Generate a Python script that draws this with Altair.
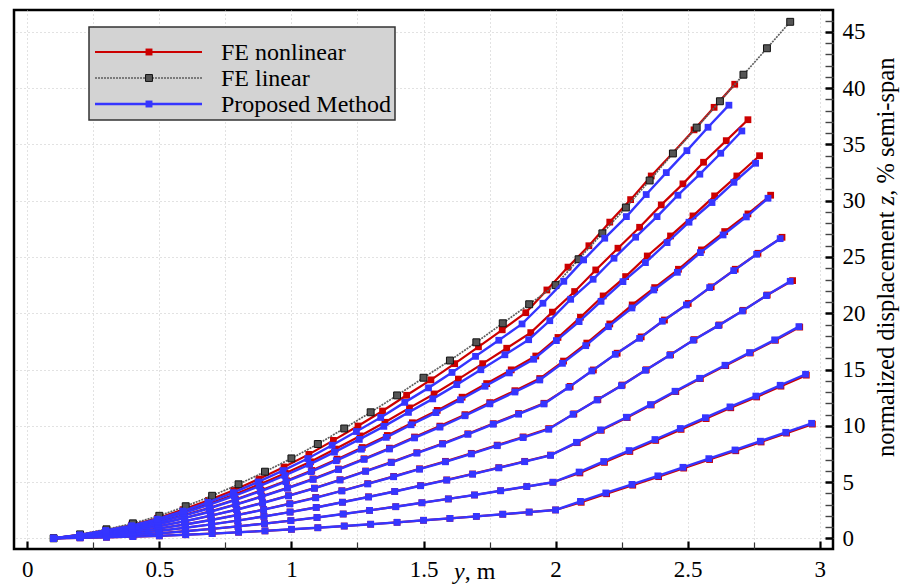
import altair as alt
import pandas as pd

FONT = "Liberation Serif"
RED = "#cc0000"
BLUE = "#3535ff"
GRAY = "#555555"

SERIES = ["FE nonlinear", "FE linear", "Proposed Method"]
X_GRID = [0, 0.25, 0.5, 0.75, 1, 1.25, 1.5, 1.75, 2, 2.25, 2.5, 2.75, 3]
X_MAJOR = [0, 0.5, 1, 1.5, 2, 2.5, 3]
X_MINOR = [0.25, 0.75, 1.25, 1.75, 2.25, 2.75]
Y_MAJOR = [0, 5, 10, 15, 20, 25, 30, 35, 40, 45]
Y_MINOR = [1, 2, 3, 4, 6, 7, 8, 9, 11, 12, 13, 14, 16, 17, 18, 19, 21, 22, 23, 24,
           26, 27, 28, 29, 31, 32, 33, 34, 36, 37, 38, 39, 41, 42, 43, 44, 46]

# ---------------- FE linear ----------------
X_LIN = [0.1, 0.2, 0.3, 0.4, 0.5, 0.6, 0.7, 0.8, 0.9, 1.0, 1.1, 1.2, 1.3, 1.4, 1.5, 1.6, 1.7, 1.8, 1.9, 2.0,
         2.087, 2.177, 2.266, 2.356, 2.444, 2.534, 2.622, 2.711, 2.8, 2.888]
Y_LIN = [0, 0.35, 0.8, 1.33, 2.0, 2.85, 3.78, 4.8, 5.92, 7.1, 8.38, 9.76, 11.2, 12.7, 14.27, 15.8, 17.42, 19.11, 20.8, 22.5,
         24.8, 27.1, 29.4, 31.8, 34.2, 36.5, 38.84, 41.2, 43.55, 45.9]

# ---------------- Proposed Method (blue) ----------------
X_PM1 = [0.1, 0.2, 0.3, 0.4, 0.5, 0.6, 0.7, 0.8, 0.9, 1.0, 1.1, 1.2, 1.3, 1.4, 1.5, 1.6, 1.7, 1.8, 1.9, 2.0,
         2.094, 2.19, 2.289, 2.387, 2.482, 2.58, 2.679, 2.775, 2.871, 2.969]
Y_PM1 = [0, 0.04, 0.09, 0.15, 0.22, 0.32, 0.42, 0.54, 0.66, 0.8, 0.94, 1.09, 1.25, 1.42, 1.6, 1.77, 1.95, 2.14, 2.33, 2.52,
         3.28, 4.03, 4.79, 5.55, 6.31, 7.08, 7.85, 8.63, 9.42, 10.22]
X_PM2 = [0.1, 0.2, 0.3, 0.4, 0.499, 0.599, 0.699, 0.798, 0.898, 0.998, 1.097, 1.196, 1.296, 1.395, 1.494, 1.594, 1.693, 1.792, 1.891, 1.99,
         2.089, 2.182, 2.278, 2.376, 2.472, 2.567, 2.66, 2.758, 2.85, 2.946]
Y_PM2 = [0, 0.08, 0.18, 0.29, 0.44, 0.63, 0.84, 1.06, 1.31, 1.57, 1.85, 2.16, 2.48, 2.81, 3.16, 3.5, 3.85, 4.23, 4.6, 4.98,
         5.89, 6.83, 7.8, 8.78, 9.76, 10.72, 11.68, 12.64, 13.6, 14.58]
X_PM3 = [0.1, 0.2, 0.3, 0.399, 0.499, 0.598, 0.698, 0.797, 0.896, 0.995, 1.094, 1.193, 1.292, 1.391, 1.489, 1.588, 1.686, 1.785, 1.883, 1.981,
         2.079, 2.17, 2.268, 2.359, 2.452, 2.545, 2.641, 2.734, 2.829, 2.921]
Y_PM3 = [0, 0.12, 0.27, 0.43, 0.66, 0.94, 1.24, 1.57, 1.94, 2.33, 2.74, 3.2, 3.67, 4.16, 4.67, 5.17, 5.7, 6.26, 6.81, 7.37,
         8.53, 9.63, 10.76, 11.88, 13.07, 14.22, 15.38, 16.5, 17.63, 18.81]
X_PM4 = [0.1, 0.2, 0.299, 0.399, 0.498, 0.598, 0.697, 0.796, 0.895, 0.994, 1.092, 1.191, 1.289, 1.387, 1.485, 1.583, 1.681, 1.779, 1.877, 1.974,
         2.066, 2.157, 2.249, 2.34, 2.432, 2.521, 2.616, 2.707, 2.798, 2.888]
Y_PM4 = [0, 0.16, 0.35, 0.57, 0.86, 1.23, 1.63, 2.06, 2.55, 3.06, 3.6, 4.21, 4.83, 5.47, 6.14, 6.8, 7.5, 8.23, 8.95, 9.69,
         11.02, 12.29, 13.56, 14.93, 16.27, 17.6, 18.9, 20.2, 21.57, 22.84]
X_PM5 = [0.1, 0.2, 0.299, 0.398, 0.497, 0.596, 0.695, 0.793, 0.891, 0.989, 1.087, 1.184, 1.281, 1.378, 1.475, 1.572, 1.668, 1.764, 1.86, 1.956,
         2.05, 2.137, 2.226, 2.318, 2.404, 2.495, 2.583, 2.674, 2.761, 2.85]
Y_PM5 = [0, 0.19, 0.43, 0.7, 1.06, 1.52, 2.01, 2.54, 3.14, 3.77, 4.44, 5.18, 5.95, 6.73, 7.57, 8.38, 9.24, 10.14, 11.03, 11.94,
         13.42, 14.87, 16.35, 17.77, 19.29, 20.74, 22.28, 23.79, 25.24, 26.63]
X_PM6 = [0.1, 0.199, 0.299, 0.398, 0.496, 0.595, 0.693, 0.79, 0.888, 0.985, 1.082, 1.178, 1.275, 1.371, 1.466, 1.562, 1.657, 1.751, 1.846, 1.94,
         2.026, 2.114, 2.2, 2.289, 2.372, 2.461, 2.548, 2.634, 2.722, 2.804]
Y_PM6 = [0, 0.23, 0.51, 0.83, 1.25, 1.79, 2.36, 3.0, 3.7, 4.45, 5.23, 6.11, 7.01, 7.94, 8.92, 9.88, 10.89, 11.95, 13.0, 14.07,
         15.55, 17.12, 18.81, 20.47, 22.07, 23.64, 25.39, 26.96, 28.56, 30.22]
X_PM7 = [0.1, 0.199, 0.298, 0.397, 0.495, 0.593, 0.69, 0.787, 0.883, 0.979, 1.075, 1.17, 1.265, 1.359, 1.453, 1.547, 1.64, 1.733, 1.825, 1.917,
         2.003, 2.089, 2.172, 2.255, 2.34, 2.422, 2.505, 2.592, 2.675, 2.757]
Y_PM7 = [0, 0.25, 0.57, 0.94, 1.42, 2.02, 2.67, 3.39, 4.18, 5.03, 5.92, 6.9, 7.92, 8.97, 10.09, 11.17, 12.31, 13.51, 14.7, 15.91,
         17.57, 19.26, 21.06, 22.81, 24.5, 26.28, 28.09, 29.84, 31.64, 33.33]
X_PM8 = [0.1, 0.199, 0.298, 0.396, 0.494, 0.591, 0.688, 0.784, 0.879, 0.975, 1.069, 1.163, 1.257, 1.35, 1.443, 1.535, 1.626, 1.717, 1.808, 1.898,
         1.978, 2.057, 2.142, 2.221, 2.303, 2.384, 2.463, 2.546, 2.625, 2.705]
Y_PM8 = [0, 0.28, 0.64, 1.04, 1.57, 2.24, 2.97, 3.76, 4.64, 5.58, 6.57, 7.66, 8.79, 9.95, 11.19, 12.39, 13.66, 14.98, 16.31, 17.65,
         19.34, 21.24, 23.02, 24.89, 26.76, 28.59, 30.49, 32.36, 34.22, 36.2]
X_PM9 = [0.1, 0.199, 0.297, 0.395, 0.492, 0.589, 0.684, 0.78, 0.874, 0.968, 1.062, 1.154, 1.246, 1.338, 1.429, 1.519, 1.608, 1.697, 1.785, 1.873,
         1.952, 2.031, 2.106, 2.186, 2.268, 2.343, 2.419, 2.497, 2.577, 2.656]
Y_PM9 = [0, 0.3, 0.69, 1.12, 1.7, 2.42, 3.2, 4.06, 5.01, 6.02, 7.09, 8.27, 9.49, 10.74, 12.08, 13.37, 14.74, 16.17, 17.6, 19.05,
         20.89, 22.84, 24.74, 26.67, 28.59, 30.55, 32.5, 34.45, 36.53, 38.49]

# ---------------- FE nonlinear (red) ----------------
X_NL1 = [0.1, 0.2, 0.3, 0.4, 0.5, 0.6, 0.7, 0.8, 0.9, 1.0, 1.1, 1.2, 1.3, 1.4, 1.5, 1.6, 1.7, 1.8, 1.9, 2.0,
         2.097, 2.193, 2.292, 2.39, 2.485, 2.583, 2.682, 2.778, 2.874, 2.972]
Y_NL1 = [0, 0.04, 0.09, 0.15, 0.22, 0.32, 0.42, 0.54, 0.66, 0.8, 0.94, 1.09, 1.25, 1.42, 1.6, 1.77, 1.95, 2.14, 2.33, 2.52,
         3.2, 3.96, 4.72, 5.48, 6.24, 7.0, 7.78, 8.56, 9.35, 10.15]
X_NL2 = [0.1, 0.2, 0.3, 0.4, 0.499, 0.599, 0.699, 0.798, 0.898, 0.998, 1.097, 1.196, 1.296, 1.395, 1.494, 1.594, 1.693, 1.792, 1.891, 1.99,
         2.092, 2.185, 2.281, 2.379, 2.475, 2.57, 2.663, 2.761, 2.853, 2.949]
Y_NL2 = [0, 0.08, 0.18, 0.29, 0.44, 0.63, 0.84, 1.06, 1.31, 1.57, 1.85, 2.16, 2.48, 2.81, 3.16, 3.5, 3.85, 4.23, 4.6, 4.98,
         5.81, 6.75, 7.72, 8.7, 9.68, 10.64, 11.6, 12.56, 13.52, 14.5]
X_NL3 = [0.1, 0.2, 0.3, 0.399, 0.499, 0.598, 0.698, 0.797, 0.896, 0.995, 1.094, 1.193, 1.292, 1.391, 1.489, 1.588, 1.686, 1.785, 1.883, 1.981,
         2.082, 2.173, 2.271, 2.362, 2.455, 2.548, 2.644, 2.737, 2.832, 2.924]
Y_NL3 = [0, 0.12, 0.27, 0.44, 0.66, 0.94, 1.25, 1.58, 1.95, 2.34, 2.75, 3.21, 3.69, 4.17, 4.69, 5.19, 5.72, 6.28, 6.84, 7.4,
         8.5, 9.6, 10.73, 11.85, 13.04, 14.19, 15.35, 16.47, 17.6, 18.77]
X_NL4 = [0.1, 0.2, 0.299, 0.399, 0.498, 0.598, 0.697, 0.796, 0.895, 0.994, 1.092, 1.191, 1.289, 1.387, 1.485, 1.583, 1.681, 1.779, 1.877, 1.974,
         2.069, 2.16, 2.252, 2.343, 2.435, 2.524, 2.619, 2.71, 2.801, 2.897]
Y_NL4 = [0, 0.16, 0.35, 0.58, 0.87, 1.24, 1.64, 2.08, 2.56, 3.08, 3.63, 4.23, 4.86, 5.5, 6.18, 6.84, 7.55, 8.28, 9.01, 9.75,
         11.06, 12.33, 13.62, 14.98, 16.32, 17.66, 18.96, 20.26, 21.62, 22.9]
X_NL5 = [0.1, 0.2, 0.299, 0.398, 0.497, 0.596, 0.695, 0.793, 0.891, 0.989, 1.087, 1.184, 1.281, 1.378, 1.475, 1.572, 1.668, 1.764, 1.86, 1.956,
         2.055, 2.143, 2.233, 2.324, 2.412, 2.502, 2.589, 2.68, 2.766, 2.857]
Y_NL5 = [0, 0.19, 0.43, 0.71, 1.07, 1.52, 2.02, 2.56, 3.16, 3.79, 4.46, 5.21, 5.98, 6.77, 7.61, 8.42, 9.29, 10.19, 11.09, 12.0,
         13.5, 14.96, 16.45, 17.9, 19.4, 20.87, 22.35, 23.91, 25.33, 26.75]
X_NL6 = [0.1, 0.199, 0.299, 0.398, 0.496, 0.595, 0.693, 0.79, 0.888, 0.985, 1.082, 1.178, 1.275, 1.371, 1.466, 1.562, 1.657, 1.751, 1.846, 1.94,
         2.03, 2.118, 2.205, 2.29, 2.375, 2.465, 2.552, 2.64, 2.728, 2.814]
Y_NL6 = [0, 0.23, 0.51, 0.84, 1.26, 1.8, 2.39, 3.02, 3.73, 4.49, 5.28, 6.16, 7.07, 8.01, 9.0, 9.97, 10.99, 12.06, 13.12, 14.2,
         15.75, 17.35, 19.05, 20.74, 22.28, 23.91, 25.63, 27.26, 28.83, 30.49]
X_NL7 = [0.1, 0.199, 0.298, 0.397, 0.495, 0.593, 0.691, 0.788, 0.885, 0.981, 1.077, 1.173, 1.268, 1.363, 1.458, 1.552, 1.646, 1.739, 1.832, 1.925,
         2.009, 2.094, 2.18, 2.265, 2.347, 2.435, 2.52, 2.602, 2.686, 2.772]
Y_NL7 = [0, 0.26, 0.58, 0.96, 1.44, 2.06, 2.72, 3.45, 4.26, 5.12, 6.03, 7.03, 8.07, 9.14, 10.27, 11.37, 12.54, 13.75, 14.97, 16.2,
         17.85, 19.65, 21.54, 23.26, 25.09, 26.87, 28.65, 30.43, 32.2, 34.0]
X_NL8 = [0.1, 0.199, 0.298, 0.396, 0.494, 0.592, 0.688, 0.785, 0.881, 0.977, 1.072, 1.166, 1.26, 1.354, 1.447, 1.54, 1.632, 1.724, 1.815, 1.906,
         1.988, 2.072, 2.152, 2.236, 2.318, 2.4, 2.482, 2.56, 2.646, 2.728]
Y_NL8 = [0, 0.29, 0.66, 1.08, 1.63, 2.32, 3.07, 3.89, 4.81, 5.78, 6.8, 7.93, 9.1, 10.31, 11.59, 12.83, 14.15, 15.52, 16.89, 18.28,
         20.1, 21.93, 23.85, 25.78, 27.64, 29.63, 31.5, 33.42, 35.34, 37.2]
X_NL9 = [0.1, 0.199, 0.297, 0.395, 0.493, 0.59, 0.686, 0.782, 0.877, 0.972, 1.066, 1.159, 1.252, 1.345, 1.436, 1.528, 1.618, 1.708, 1.798, 1.887,
         1.967, 2.047, 2.126, 2.205, 2.284, 2.362, 2.442, 2.524, 2.6, 2.678]
Y_NL9 = [0, 0.32, 0.72, 1.18, 1.78, 2.55, 3.37, 4.27, 5.27, 6.34, 7.46, 8.7, 9.98, 11.31, 12.71, 14.08, 15.52, 17.02, 18.53, 20.05,
         22.07, 24.1, 26.0, 28.1, 30.1, 32.2, 34.2, 36.3, 38.3, 40.35]

NL = [(X_NL1, Y_NL1), (X_NL2, Y_NL2), (X_NL3, Y_NL3), (X_NL4, Y_NL4), (X_NL5, Y_NL5),
      (X_NL6, Y_NL6), (X_NL7, Y_NL7), (X_NL8, Y_NL8), (X_NL9, Y_NL9)]
PM = [(X_PM1, Y_PM1), (X_PM2, Y_PM2), (X_PM3, Y_PM3), (X_PM4, Y_PM4), (X_PM5, Y_PM5),
      (X_PM6, Y_PM6), (X_PM7, Y_PM7), (X_PM8, Y_PM8), (X_PM9, Y_PM9)]
LIN = [(X_LIN, Y_LIN)]


def to_long(curves, prefix):
    rows = []
    for k, (xs, ys) in enumerate(curves, 1):
        for i, (xv, yv) in enumerate(zip(xs, ys)):
            rows.append({"curve": f"{prefix}{k}", "i": i, "x": xv, "y": yv})
    return pd.DataFrame(rows)


df_nl = to_long(NL, "nl")
df_pm = to_long(PM, "pm")
df_lin = to_long(LIN, "lin")

W, H = 819, 539
XS = alt.Scale(domain=[-0.05, 3.05], nice=False, zero=False)
YS = alt.Scale(domain=[-0.95, 46.95], nice=False, zero=False)

GRID = dict(grid=True, gridColor="#c4c4c4", gridDash=[1, 3], gridWidth=1)

ax_x_lab = alt.Axis(orient="bottom", values=X_GRID, format="~g",
                    labelExpr="datum.value % 0.5 == 0 ? datum.label : ''",
                    ticks=False, tickSize=0, domain=False, labelFont=FONT, labelFontSize=23,
                    labelColor="black", labelPadding=9, labelFlush=False, labelOverlap=False,
                    title=None, zindex=0, **GRID)
ax_y_lab = alt.Axis(orient="right", values=Y_MAJOR, format="d", ticks=False, tickSize=0,
                    domain=False, labelFont=FONT, labelFontSize=23, labelColor="black",
                    labelPadding=9, labelFlush=False, labelOverlap=False, title=None,
                    zindex=0, **GRID)
ax_x_minor = alt.Axis(orient="top", offset=-H, values=X_MINOR, labels=False, domain=False,
                      grid=False, tickSize=7, tickWidth=1.2, tickColor="#333333",
                      title=None, zindex=1)
ax_y_minor = alt.Axis(orient="left", offset=-W, values=Y_MINOR, labels=False, domain=False,
                      grid=False, tickSize=8, tickWidth=1.4, tickColor="#444444",
                      title=None, zindex=1)
ax_x_major = alt.Axis(orient="top", offset=-H, values=X_MAJOR, labels=False, domain=False,
                      grid=False, tickSize=8, tickWidth=2.2, tickColor="black",
                      title=None, zindex=1)
ax_y_major = alt.Axis(orient="left", offset=-W, values=Y_MAJOR, labels=False, domain=False,
                      grid=False, tickSize=8, tickWidth=2.5, tickColor="black",
                      title=None, zindex=1)


def xe(axis):
    return alt.X("x:Q", scale=XS, axis=axis)


def ye(axis):
    return alt.Y("y:Q", scale=YS, axis=axis)


red_line = alt.Chart(df_nl).mark_line(color=RED, strokeWidth=2.2).encode(
    x=xe(ax_x_lab), y=ye(ax_y_lab), detail="curve:N", order="i:Q")
red_pts = alt.Chart(df_nl).mark_point(shape="square", filled=True, color=RED, size=46,
                                      opacity=1).encode(x=xe(ax_x_minor), y=ye(ax_y_minor))
gray_line = alt.Chart(df_lin).mark_line(color="#5e5e5e", strokeWidth=1.7, strokeDash=[2, 1]).encode(
    x=xe(ax_x_major), y=ye(ax_y_major), order="i:Q")
gray_pts = alt.Chart(df_lin).mark_point(shape="square", filled=True, fill=GRAY, stroke="#111111",
                                        strokeWidth=1, size=48, opacity=1).encode(
    x=xe(None), y=ye(None))
blue_line = alt.Chart(df_pm).mark_line(color=BLUE, strokeWidth=2.4).encode(
    x=xe(None), y=ye(None), detail="curve:N", order="i:Q")
blue_pts = alt.Chart(df_pm).mark_point(shape="square", filled=True, color=BLUE, size=46,
                                       opacity=1).encode(x=xe(None), y=ye(None))

# ---------------- legend (drawn by hand) ----------------
one = pd.DataFrame({"k": [0]})
leg_box = alt.Chart(one).mark_rect(fill="#d3d3d3", stroke="#333333", strokeWidth=1.5).encode(
    x=alt.value(75), x2=alt.value(381), y=alt.value(17), y2=alt.value(110))
legend_layers = [leg_box]
styles = {
    "FE nonlinear": dict(line=dict(color=RED, strokeWidth=2.2),
                         pt=dict(color=RED, filled=True)),
    "FE linear": dict(line=dict(color="#5e5e5e", strokeWidth=1.7, strokeDash=[2, 1]),
                      pt=dict(fill=GRAY, stroke="#111111", strokeWidth=1, filled=True)),
    "Proposed Method": dict(line=dict(color=BLUE, strokeWidth=2.4),
                            pt=dict(color=BLUE, filled=True)),
}
for idx, name in enumerate(SERIES):
    yy = 42 + 26 * idx
    lab = pd.DataFrame({"label": [name]})
    st = styles[name]
    legend_layers.append(alt.Chart(lab).mark_rule(**st["line"]).encode(
        x=alt.value(81), x2=alt.value(188), y=alt.value(yy)))
    legend_layers.append(alt.Chart(lab).mark_point(shape="square", size=48, opacity=1, **st["pt"]).encode(
        x=alt.value(135), y=alt.value(yy)))
    legend_layers.append(alt.Chart(lab).mark_text(align="left", baseline="middle", font=FONT,
                                                  fontSize=24, color="black").encode(
        x=alt.value(207), y=alt.value(yy + 1), text="label:N"))

# ---------------- axis titles (mixed italic) ----------------
TITLE_Y = ["normalized displacement ", "z", ", % semi-span"]
TITLE_X = ["y", ", m"]
tsize = 24.5
tx = 873
title_layers = [
    alt.Chart(pd.DataFrame({"t": [TITLE_Y[0]]})).mark_text(
        angle=270, align="left", baseline="middle", font=FONT, fontSize=tsize, color="black").encode(
        x=alt.value(tx), y=alt.value(447), text="t:N"),
    alt.Chart(pd.DataFrame({"t": [TITLE_Y[1]]})).mark_text(
        angle=270, align="left", baseline="middle", font=FONT, fontSize=tsize, fontStyle="italic",
        color="black").encode(x=alt.value(tx), y=alt.value(195.2), text="t:N"),
    alt.Chart(pd.DataFrame({"t": [TITLE_Y[2]]})).mark_text(
        angle=270, align="left", baseline="middle", font=FONT, fontSize=tsize, color="black").encode(
        x=alt.value(tx), y=alt.value(185.7), text="t:N"),
    alt.Chart(pd.DataFrame({"t": [TITLE_X[0]]})).mark_text(
        align="left", baseline="alphabetic", font=FONT, fontSize=24, fontStyle="italic",
        color="black").encode(x=alt.value(440), y=alt.value(569), text="t:N"),
    alt.Chart(pd.DataFrame({"t": [TITLE_X[1]]})).mark_text(
        align="left", baseline="alphabetic", font=FONT, fontSize=24, color="black").encode(
        x=alt.value(450.7), y=alt.value(569), text="t:N"),
]

chart = alt.layer(
    red_line, red_pts, gray_line, gray_pts, blue_line, blue_pts,
    *legend_layers, *title_layers
).resolve_axis(x="independent", y="independent").properties(
    width=W, height=H,
    autosize=alt.AutoSizeParams(type="none"),
    padding={"left": 14, "top": 10, "right": 67, "bottom": 37},
    background="white",
).configure_view(stroke="black", strokeWidth=2.5)

chart.save("out.html", embed_options={"renderer": "svg", "actions": False})
